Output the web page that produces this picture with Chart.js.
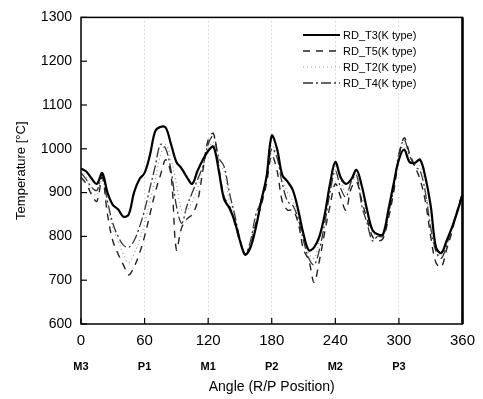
<!DOCTYPE html>
<html>
<head>
<meta charset="utf-8">
<script src="https://cdn.jsdelivr.net/npm/chart.js@4.4.0/dist/chart.umd.min.js"></script>
<style>
  body { margin: 0; background: #fff; }
</style>
</head>
<body>
<canvas id="mycanvas" width="483" height="399"></canvas>
<script>
// angle in degrees, every 5 deg
var angles = [0,5,10,15,20,25,30,35,40,45,50,55,60,65,70,75,80,85,90,95,100,105,110,115,120,125,130,135,140,145,150,155,160,165,170,175,180,185,190,195,200,205,210,215,220,225,230,235,240,245,250,255,260,265,270,275,280,285,290,295,300,305,310,315,320,325,330,335,340,345,350,355,360];

var rdT3 = [955,948,932,920,945,900,872,862,845,850,900,930,945,985,1040,1050,1048,1010,970,955,935,920,950,975,995,1005,950,885,865,835,790,758,775,820,880,935,1030,1000,940,925,905,860,805,768,775,800,850,920,970,935,920,930,952,915,860,815,805,805,860,920,975,998,970,968,975,935,870,775,762,790,820,855,895];
var rdT5 = [935,920,895,880,935,850,790,760,735,712,730,760,800,850,900,940,975,940,770,820,840,850,880,950,1020,1035,960,890,870,830,790,760,780,830,870,920,985,950,880,860,860,830,770,745,695,745,810,870,920,890,860,910,925,880,840,800,790,795,840,900,980,1025,990,960,930,880,800,740,730,770,810,860,900];
var rdT2 = [950,935,900,895,930,870,820,790,760,740,760,790,830,880,930,985,1010,975,920,860,860,880,910,960,1000,1015,965,950,880,840,790,758,785,845,890,940,1005,990,930,900,880,850,800,760,750,790,850,910,960,930,900,920,935,890,850,810,800,800,850,915,985,1010,975,965,960,905,830,770,755,785,815,855,890];
var rdT4 = [945,930,912,905,940,880,830,800,780,775,790,820,860,910,960,1010,1000,950,870,830,870,900,930,960,1010,1030,980,960,900,850,795,760,790,850,880,930,1000,980,920,880,870,840,790,750,735,770,830,900,950,910,890,925,940,870,830,790,800,800,850,910,990,1020,985,960,950,900,820,765,750,780,820,860,895];

var xTicks = [0,60,120,180,240,300,360];
var positions = ['M3','P1','M1','P2','M2','P3',''];
var yTicks = [600,700,800,900,1000,1100,1200,1300];

function pts(vals){
    return angles.map(function(a, i){ return {x: a, y: vals[i]} })
}

var seriesInfo = [
    {label: 'RD_T3(K type)', data: rdT3, color: '#000', width: 2.2, dash: []},
    {label: 'RD_T5(K type)', data: rdT5, color: '#222', width: 1.4, dash: [7,6]},
    {label: 'RD_T2(K type)', data: rdT2, color: '#999', width: 1.2, dash: [1,3]},
    {label: 'RD_T4(K type)', data: rdT4, color: '#333', width: 1.3, dash: [10,3,2,3]}
]

var extras = {
    id: 'extras',
    afterDraw: function(chart){
        var ctx = chart.ctx
        var a = chart.chartArea
        var xs = chart.scales.x, ys = chart.scales.y
        ctx.save()
        // frame
        ctx.strokeStyle = '#000'
        ctx.lineWidth = 1.5
        ctx.strokeRect(a.left, a.top, a.right - a.left, a.bottom - a.top)
        ctx.lineWidth = 2.5
        ctx.beginPath(); ctx.moveTo(a.right, a.top); ctx.lineTo(a.right, a.bottom); ctx.stroke()
        // inward ticks
        ctx.lineWidth = 1.2
        yTicks.forEach(function(v){
            var py = ys.getPixelForValue(v)
            ctx.beginPath(); ctx.moveTo(a.left, py); ctx.lineTo(a.left + 6, py); ctx.stroke()
        })
        xTicks.forEach(function(v){
            var px = xs.getPixelForValue(v)
            ctx.beginPath(); ctx.moveTo(px, a.bottom); ctx.lineTo(px, a.bottom - 6); ctx.stroke()
        })
        // position row under tick labels
        ctx.fillStyle = '#000'
        ctx.font = 'bold 11px "Liberation Sans", Arial, sans-serif'
        ctx.textAlign = 'center'
        ctx.textBaseline = 'middle'
        xTicks.forEach(function(v, i){
            ctx.fillText(positions[i], xs.getPixelForValue(v), 367)
        })
        // legend
        ctx.font = '11px "Liberation Sans", Arial, sans-serif'
        ctx.textAlign = 'left'
        seriesInfo.forEach(function(s, i){
            var y = 35 + i * 16
            ctx.strokeStyle = s.color
            ctx.lineWidth = s.width
            ctx.setLineDash(s.dash)
            ctx.beginPath(); ctx.moveTo(303, y); ctx.lineTo(340, y); ctx.stroke()
            ctx.setLineDash([])
            ctx.fillText(s.label, 343, y + 1)
        })
        ctx.restore()
    }
}

var context = document.getElementById('mycanvas').getContext('2d')
new Chart(context, {
    type: 'line',
    data: {
        datasets: seriesInfo.map(function(s){
            return {
                label: s.label,
                data: pts(s.data),
                borderColor: s.color,
                borderWidth: s.width,
                borderDash: s.dash,
                pointRadius: 0,
                tension: 0.35,
                fill: false
            }
        })
    },
    options: {
        responsive: false,
        animation: false,
        layout: {padding: {top: 14, right: 18, left: 0, bottom: 0}},
        plugins: {legend: {display: false}, tooltip: {enabled: false}},
        scales: {
            x: {
                type: 'linear',
                min: 0, max: 360,
                afterBuildTicks: function(scale){ scale.ticks = xTicks.map(function(v){ return {value: v} }) },
                afterFit: function(scale){ scale.height = 75 },
                border: {display: false, dash: [1,3]},
                grid: {
                    drawTicks: false,
                    color: function(c){ return (c.tick && (c.tick.value == 0 || c.tick.value == 360)) ? 'rgba(0,0,0,0)' : '#bbb' },
                    lineWidth: 1
                },
                ticks: {
                    color: '#000',
                    padding: 8,
                    maxRotation: 0,
                    callback: function(v){ return String(v) },
                    font: {family: '"Liberation Sans", Arial, sans-serif', size: 15}
                },
                title: {
                    display: true,
                    text: 'Angle (R/P Position)',
                    color: '#000',
                    font: {family: '"Liberation Sans", Arial, sans-serif', size: 14},
                    padding: {top: 0, bottom: 3}
                }
            },
            y: {
                min: 600, max: 1300,
                afterBuildTicks: function(scale){ scale.ticks = yTicks.map(function(v){ return {value: v} }) },
                afterFit: function(scale){ scale.width = 81 },
                border: {display: false},
                grid: {display: false, drawTicks: false},
                ticks: {
                    color: '#000',
                    padding: 9,
                    callback: function(v){ return String(v) },
                    font: {family: '"Liberation Sans", Arial, sans-serif', size: 14}
                },
                title: {
                    display: true,
                    text: 'Temperature [°C]',
                    color: '#000',
                    font: {family: '"Liberation Sans", Arial, sans-serif', size: 13},
                    padding: {top: 14, bottom: 0}
                }
            }
        }
    },
    plugins: [extras]
})
</script>
</body>
</html>
